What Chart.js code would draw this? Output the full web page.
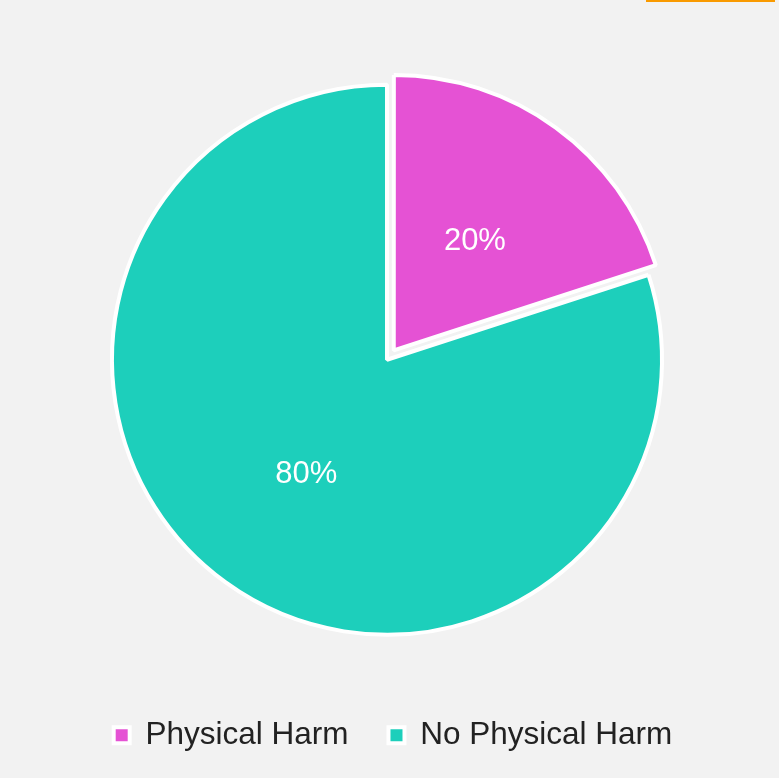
<!DOCTYPE html>
<html>
<head>
<meta charset="utf-8">
<script src="https://cdn.jsdelivr.net/npm/chart.js@4"></script>
<style>
  html, body { margin: 0; padding: 0; background: #f2f2f2; }
  #wrap { position: relative; width: 779px; height: 778px; }
  #topbar { position: absolute; left: 646px; top: 0; width: 129px; height: 2px; background: #f99a00; }
</style>
</head>
<body>
<div id="wrap">
  <canvas id="harmChart" width="779" height="778"></canvas>
  <div id="topbar"></div>
</div>
<script>
// dados do gráfico
const categorias = ['Physical Harm', 'No Physical Harm'];
const valores = [20, 80];
const cores = ['#E552D4', '#1DCFBB'];
const deslocamentos = [46, 0];

// deslocamento real que o Chart.js aplica ao arco (offset/4 mais a correção)
function deslocamentoReal(arc) {
    const off = (arc.options.offset || 0) / 4;
    const circ = arc.endAngle - arc.startAngle;
    const fix = 1 - Math.sin(Math.min(Math.PI, circ || 0));
    return off + off * fix;
}

// Plugin simples para escrever a porcentagem no meio de cada fatia
const rotulosPlugin = {
    id: 'rotulos',
    afterLayout(chart) {
        // empurra a legenda um pouco para a direita
        chart.legend.left += 6;
        chart.legend.right += 6;
    },
    afterDatasetsDraw(chart) {
        const ctx = chart.ctx;
        const meta = chart.getDatasetMeta(0);
        const total = valores.reduce((a, b) => a + b, 0);
        ctx.save();
        ctx.fillStyle = '#ffffff';
        ctx.font = '31px "Liberation Sans", Arial, sans-serif';
        ctx.textAlign = 'center';
        ctx.textBaseline = 'middle';
        meta.data.forEach((arc, i) => {
            const ang = (arc.startAngle + arc.endAngle) / 2;
            const r = (arc.innerRadius + arc.outerRadius) / 2 + deslocamentoReal(arc);
            const pct = Math.round(valores[i] / total * 100) + '%';
            ctx.fillText(pct, arc.x + Math.cos(ang) * r, arc.y + Math.sin(ang) * r + 3);
        });
        ctx.restore();
    }
};

const ctx = document.getElementById('harmChart').getContext('2d');
new Chart(ctx, {
    type: 'pie',
    data: {
        labels: categorias,
        datasets: [{
            data: valores,
            backgroundColor: cores,
            borderColor: '#ffffff',
            borderWidth: 4,
            offset: deslocamentos
        }]
    },
    options: {
        responsive: false,
        animation: false,
        radius: 275,
        layout: {
            padding: { top: 40, right: 5, bottom: 17, left: 0 }
        },
        plugins: {
            tooltip: { enabled: false },
            legend: {
                position: 'bottom',
                labels: {
                    color: '#222222',
                    font: { size: 31.5, family: '"Liberation Sans", Arial, sans-serif' },
                    boxWidth: 16,
                    boxHeight: 16,
                    padding: 40,
                    generateLabels(chart) {
                        const base = Chart.overrides.pie.plugins.legend.labels.generateLabels(chart);
                        return base.map(item => Object.assign(item, { lineWidth: 4, strokeStyle: '#ffffff' }));
                    }
                }
            }
        }
    },
    plugins: [rotulosPlugin]
});
</script>
</body>
</html>
